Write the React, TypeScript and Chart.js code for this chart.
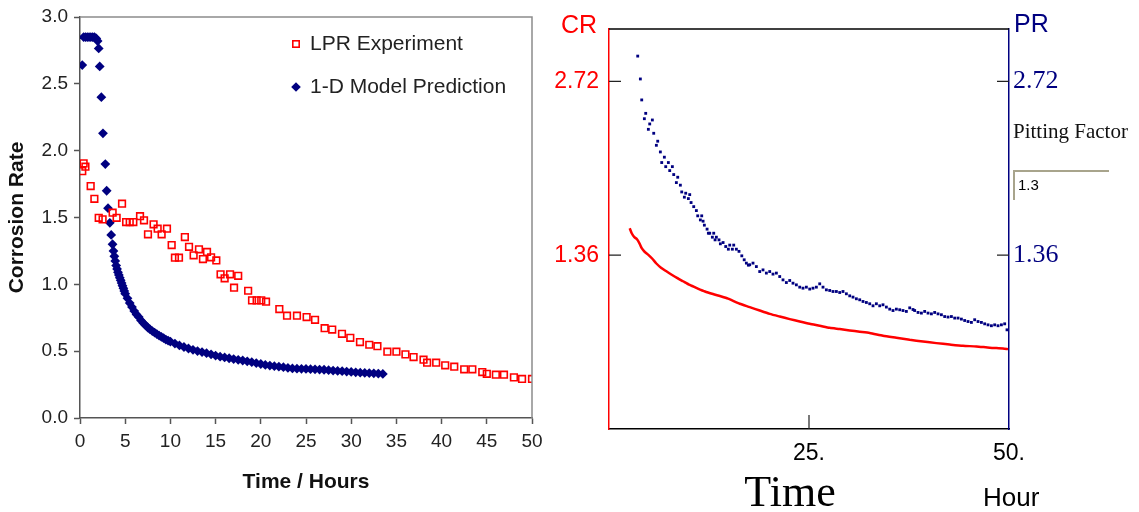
import React, { useEffect, useRef } from 'react';
import { Chart, registerables } from 'chart.js';

Chart.register(...registerables);

// ---------- Left panel data ----------
const lprLabel = 'LPR Experiment';
const lprTime = [0.25, 0.4, 0.6, 1.18, 1.59, 2.07, 2.5, 3.61, 4.05, 4.65, 5.1, 5.5, 5.9, 6.64, 7.08, 7.52, 8.14, 8.59, 9.03, 9.62, 10.14, 10.5, 10.95, 11.6, 12.06, 12.57, 13.16, 13.6, 14.05, 14.5, 15.08, 15.55, 16.0, 16.6, 17.04, 17.5, 18.6, 19.03, 19.54, 20.05, 20.58, 22.05, 22.9, 24.0, 25.07, 26.0, 27.06, 27.9, 28.98, 29.9, 30.97, 32.0, 32.9, 34.0, 35.0, 36.0, 36.9, 38.0, 38.4, 39.4, 40.4, 41.4, 42.5, 43.4, 44.5, 45.0, 46.0, 46.9, 48.0, 48.9, 50.0];
const lprRate = [1.847, 1.905, 1.88, 1.735, 1.64, 1.498, 1.486, 1.536, 1.498, 1.603, 1.466, 1.466, 1.466, 1.51, 1.479, 1.374, 1.449, 1.416, 1.374, 1.416, 1.294, 1.199, 1.199, 1.354, 1.281, 1.217, 1.262, 1.189, 1.242, 1.202, 1.179, 1.075, 1.045, 1.075, 0.975, 1.064, 0.952, 0.88, 0.88, 0.88, 0.87, 0.815, 0.765, 0.765, 0.755, 0.735, 0.672, 0.662, 0.63, 0.6, 0.568, 0.548, 0.537, 0.496, 0.496, 0.476, 0.456, 0.436, 0.414, 0.414, 0.394, 0.384, 0.364, 0.364, 0.344, 0.331, 0.324, 0.324, 0.304, 0.292, 0.292];

const modelLabel = '1-D Model Prediction';
const modelTime = [0.25, 0.4, 0.6, 0.8, 1.0, 1.2, 1.4, 1.6, 1.8, 1.95, 2.07, 2.18, 2.36, 2.54, 2.8, 2.95, 3.1, 3.3, 3.45, 3.6, 3.7, 3.8, 3.9, 4.0, 4.1, 4.2, 4.3, 4.4, 4.5, 4.6, 4.7, 4.8, 4.9, 5.0, 5.25, 5.5, 5.75, 6.0, 6.25, 6.5, 6.75, 7.0, 7.25, 7.5, 7.75, 8.0, 8.25, 8.5, 8.75, 9.0, 9.25, 9.5, 9.75, 10.0, 10.5, 11.0, 11.5, 12.0, 12.5, 13.0, 13.5, 14.0, 14.5, 15.0, 15.5, 16.0, 16.5, 17.0, 17.5, 18.0, 18.5, 19.0, 19.5, 20.0, 20.5, 21.0, 21.5, 22.0, 22.5, 23.0, 23.5, 24.0, 24.5, 25.0, 25.5, 26.0, 26.5, 27.0, 27.5, 28.0, 28.5, 29.0, 29.5, 30.0, 30.5, 31.0, 31.5, 32.0, 32.5, 33.0, 33.5];
const modelRate = [2.64, 2.85, 2.85, 2.85, 2.85, 2.85, 2.85, 2.85, 2.84, 2.82, 2.765, 2.63, 2.4, 2.13, 1.9, 1.7, 1.57, 1.46, 1.37, 1.3, 1.25, 1.21, 1.175, 1.14, 1.115, 1.09, 1.07, 1.05, 1.03, 1.01, 0.99, 0.97, 0.95, 0.93, 0.895, 0.86, 0.83, 0.8, 0.775, 0.755, 0.73, 0.71, 0.693, 0.677, 0.663, 0.65, 0.639, 0.628, 0.617, 0.607, 0.597, 0.587, 0.579, 0.572, 0.557, 0.543, 0.531, 0.52, 0.51, 0.501, 0.493, 0.485, 0.476, 0.467, 0.459, 0.453, 0.447, 0.441, 0.435, 0.43, 0.424, 0.418, 0.411, 0.404, 0.397, 0.392, 0.388, 0.384, 0.38, 0.375, 0.371, 0.369, 0.368, 0.367, 0.365, 0.364, 0.362, 0.361, 0.358, 0.355, 0.352, 0.35, 0.347, 0.345, 0.342, 0.339, 0.337, 0.336, 0.334, 0.332, 0.33];

const leftXTicks = [0, 5, 10, 15, 20, 25, 30, 35, 40, 45, 50];
const leftYTicks = [0, 0.5, 1.0, 1.5, 2.0, 2.5, 3.0];
const leftXTitle = 'Time / Hours';
const leftYTitle = 'Corrosion Rate';

// ---------- Right panel data ----------
const crTime = [2.59, 2.84, 3.17, 3.5, 3.84, 4.09, 4.42, 4.92, 5.42, 5.92, 6.5, 7.17, 7.84, 8.5, 9.25, 10.09, 11.0, 12.0, 13.0, 14.05, 14.88, 16.34, 17.59, 18.84, 20.09, 21.34, 22.59, 23.84, 25.09, 26.34, 27.59, 28.84, 30.09, 31.34, 32.59, 34.25, 35.92, 37.59, 39.25, 40.92, 42.59, 44.25, 45.92, 47.59, 49.25, 49.88];
const crValue = [1.571, 1.532, 1.501, 1.485, 1.449, 1.415, 1.389, 1.363, 1.332, 1.295, 1.262, 1.234, 1.207, 1.182, 1.156, 1.127, 1.102, 1.076, 1.056, 1.037, 1.02, 0.98, 0.954, 0.927, 0.901, 0.88, 0.86, 0.841, 0.823, 0.808, 0.792, 0.782, 0.771, 0.761, 0.751, 0.73, 0.714, 0.698, 0.685, 0.672, 0.661, 0.651, 0.646, 0.636, 0.63, 0.625];

const prTime = [3.59, 3.92, 4.09, 4.42, 4.59, 4.92, 5.09, 5.42, 5.59, 5.92, 6.09, 6.42, 6.59, 6.92, 7.09, 7.42, 7.59, 7.92, 8.09, 8.42, 8.59, 8.92, 9.09, 9.42, 9.59, 9.92, 10.09, 10.26, 10.59, 10.92, 11.09, 11.42, 11.59, 11.76, 11.92, 12.26, 12.42, 12.59, 12.92, 13.09, 13.26, 13.42, 13.75, 13.92, 14.26, 14.59, 14.92, 15.09, 15.42, 15.59, 15.92, 16.25, 16.6, 16.9, 17.17, 17.42, 17.59, 18.0, 18.42, 18.84, 19.25, 19.67, 20.09, 20.5, 20.92, 21.34, 21.75, 22.17, 22.59, 23.0, 23.42, 23.84, 24.25, 24.67, 25.09, 25.5, 25.92, 26.34, 26.75, 27.17, 27.59, 28.0, 28.42, 28.84, 29.25, 29.67, 30.09, 30.5, 30.92, 31.34, 31.75, 32.17, 32.59, 33.0, 33.42, 33.84, 34.25, 34.67, 35.09, 35.5, 35.92, 36.34, 36.75, 37.17, 37.59, 38.0, 38.21, 38.63, 39.05, 39.46, 39.88, 40.3, 40.71, 41.13, 41.55, 41.96, 42.38, 42.8, 43.21, 43.63, 44.05, 44.46, 44.88, 45.3, 45.71, 46.13, 46.55, 46.96, 47.38, 47.8, 48.21, 48.63, 49.05, 49.46, 49.75];
const prValue = [2.918, 2.739, 2.575, 2.428, 2.47, 2.345, 2.387, 2.418, 2.314, 2.22, 2.252, 2.168, 2.085, 2.127, 2.053, 2.085, 2.022, 2.053, 1.991, 1.928, 1.97, 1.908, 1.855, 1.814, 1.845, 1.803, 1.834, 1.772, 1.74, 1.709, 1.668, 1.636, 1.668, 1.626, 1.595, 1.564, 1.532, 1.532, 1.501, 1.532, 1.48, 1.501, 1.48, 1.449, 1.459, 1.428, 1.407, 1.439, 1.407, 1.439, 1.407, 1.39, 1.355, 1.324, 1.298, 1.282, 1.285, 1.298, 1.271, 1.232, 1.245, 1.22, 1.232, 1.212, 1.22, 1.193, 1.167, 1.146, 1.162, 1.141, 1.128, 1.11, 1.102, 1.11, 1.095, 1.102, 1.11, 1.136, 1.11, 1.089, 1.084, 1.076, 1.076, 1.068, 1.076, 1.058, 1.042, 1.032, 1.019, 1.011, 0.998, 0.99, 0.98, 0.964, 0.98, 0.964, 0.972, 0.954, 0.938, 0.927, 0.938, 0.933, 0.927, 0.92, 0.948, 0.935, 0.927, 0.912, 0.907, 0.92, 0.907, 0.901, 0.912, 0.901, 0.894, 0.88, 0.876, 0.88, 0.868, 0.868, 0.86, 0.849, 0.841, 0.834, 0.855, 0.841, 0.834, 0.823, 0.815, 0.808, 0.815, 0.808, 0.815, 0.823, 0.776];

const rightXTicks = [25, 50];
const rightYTicks = [1.36, 2.72];
const rightYMax = 3.13;
const crLabel = 'CR';
const prLabel = 'PR';
const rightXTitle = 'Time';
const rightXUnit = 'Hour';
const pittingLabel = 'Pitting Factor';
const pittingValue = '1.3';

const RED = '#ff0000';
const NAVY = '#000080';
const SANS = 'Arial, "Liberation Sans", sans-serif';
const SERIF = '"Times New Roman", "Liberation Serif", serif';

const zip = (xs: number[], ys: number[]) => xs.map((x, i) => ({ x, y: ys[i] }));

const leftDecor = {
  id: 'leftDecor',
  afterDraw(chart: any) {
    const { ctx, chartArea: a } = chart;
    ctx.save();
    ctx.strokeStyle = '#8c8c8c';
    ctx.lineWidth = 1.5;
    ctx.beginPath();
    ctx.moveTo(a.left, a.top);
    ctx.lineTo(a.right, a.top);
    ctx.lineTo(a.right, a.bottom);
    ctx.stroke();
    // legend
    const items = chart.data.datasets;
    const ys = [44, 87];
    items.forEach((ds: any, i: number) => {
      const mx = 296;
      const my = ys[i];
      if (ds.pointStyle === 'rect') {
        ctx.strokeStyle = ds.borderColor;
        ctx.lineWidth = 1.6;
        ctx.strokeRect(mx - 3.2, my - 3.2, 6.4, 6.4);
      } else {
        ctx.fillStyle = ds.backgroundColor;
        ctx.beginPath();
        ctx.moveTo(mx, my - 4.8);
        ctx.lineTo(mx + 4.8, my);
        ctx.lineTo(mx, my + 4.8);
        ctx.lineTo(mx - 4.8, my);
        ctx.closePath();
        ctx.fill();
      }
      ctx.fillStyle = '#222';
      ctx.font = `21px ${SANS}`;
      ctx.textBaseline = 'middle';
      ctx.textAlign = 'left';
      ctx.fillText(ds.label, 310, my);
    });
    ctx.restore();
  },
};

const rightDecor = {
  id: 'rightDecor',
  afterDraw(chart: any) {
    const { ctx, chartArea: a, scales } = chart;
    ctx.save();
    // top border
    ctx.strokeStyle = '#000';
    ctx.lineWidth = 1.5;
    ctx.beginPath();
    ctx.moveTo(a.left, a.top);
    ctx.lineTo(a.right, a.top);
    ctx.stroke();
    // inward ticks
    ctx.lineWidth = 1.2;
    ctx.strokeStyle = '#222';
    ctx.beginPath();
    scales.y.ticks.forEach((t: any) => {
      const p = scales.y.getPixelForValue(t.value);
      ctx.moveTo(a.left, p);
      ctx.lineTo(a.left + 12, p);
    });
    scales.y2.ticks.forEach((t: any) => {
      const p = scales.y2.getPixelForValue(t.value);
      ctx.moveTo(a.right - 12, p);
      ctx.lineTo(a.right, p);
    });
    scales.x.ticks.forEach((t: any) => {
      const p = scales.x.getPixelForValue(t.value);
      if (Math.abs(p - a.right) < 2) return;
      ctx.moveTo(p, a.bottom);
      ctx.lineTo(p, a.bottom - 14);
    });
    ctx.stroke();
    // axis captions
    ctx.textBaseline = 'middle';
    ctx.font = `25px ${SANS}`;
    ctx.fillStyle = RED;
    ctx.textAlign = 'center';
    ctx.fillText(crLabel, a.left - 30, 26);
    ctx.fillStyle = NAVY;
    ctx.textAlign = 'left';
    ctx.fillText(prLabel, a.right + 5, 25);
    // pitting factor
    ctx.fillStyle = '#111';
    ctx.font = `21px ${SERIF}`;
    ctx.fillText(pittingLabel, a.right + 4, 132);
    ctx.strokeStyle = '#a8a48c';
    ctx.lineWidth = 2;
    ctx.beginPath();
    ctx.moveTo(a.right + 5, 200);
    ctx.lineTo(a.right + 5, 171);
    ctx.lineTo(a.right + 100, 171);
    ctx.stroke();
    ctx.fillStyle = '#000';
    ctx.font = `15px ${SANS}`;
    ctx.fillText(pittingValue, a.right + 9, 186);
    // bottom captions
    ctx.textBaseline = 'alphabetic';
    ctx.textAlign = 'center';
    ctx.font = `44px ${SERIF}`;
    ctx.fillText(rightXTitle, 245, 506);
    ctx.textAlign = 'left';
    ctx.font = `26px ${SANS}`;
    ctx.fillText(rightXUnit, 438, 506);
    ctx.restore();
  },
};

export default function App() {
  const leftRef = useRef<HTMLCanvasElement>(null);
  const rightRef = useRef<HTMLCanvasElement>(null);

  useEffect(() => {
    document.body.style.margin = '0';
    const left = new Chart(leftRef.current!, {
      type: 'scatter',
      data: {
        datasets: [
          {
            label: lprLabel,
            data: zip(lprTime, lprRate),
            pointStyle: 'rect',
            pointRadius: 4.7,
            borderColor: RED,
            backgroundColor: 'rgba(255,255,255,0)',
            borderWidth: 1.6,
            showLine: false,
          },
          {
            label: modelLabel,
            data: zip(modelTime, modelRate),
            pointStyle: 'rectRot',
            pointRadius: 4.9,
            borderColor: NAVY,
            backgroundColor: NAVY,
            borderWidth: 0,
            showLine: false,
          },
        ],
      },
      options: {
        responsive: false,
        animation: false,
        events: [],
        layout: { padding: { left: 0, top: 17, right: 13, bottom: 0 } },
        plugins: { legend: { display: false }, tooltip: { enabled: false } },
        scales: {
          x: {
            type: 'linear',
            min: 0,
            max: 50,
            afterBuildTicks: (s: any) => { s.ticks = leftXTicks.map((v) => ({ value: v })); },
            afterFit: (s: any) => { s.height = 94; s.paddingLeft = 0; s.paddingRight = 0; },
            ticks: { font: { size: 19, family: SANS }, color: '#222', padding: 6, maxRotation: 0, autoSkip: false },
            grid: { drawOnChartArea: false, tickLength: 6, tickColor: '#555', tickWidth: 1.5 },
            border: { color: '#555', width: 1.5 },
            title: { display: true, text: leftXTitle, font: { size: 21, weight: 'bold', family: SANS }, color: '#111', padding: { top: 0, bottom: 17 } },
          },
          y: {
            type: 'linear',
            min: 0,
            max: 3,
            afterBuildTicks: (s: any) => { s.ticks = leftYTicks.map((v) => ({ value: v })); },
            afterFit: (s: any) => { s.width = 80; s.paddingTop = 0; s.paddingBottom = 0; },
            ticks: { font: { size: 19, family: SANS }, color: '#222', padding: 6, callback: (v: any) => Number(v).toFixed(1) },
            grid: { drawOnChartArea: false, tickLength: 6, tickColor: '#555', tickWidth: 1.5 },
            border: { color: '#555', width: 1.5 },
            title: { display: true, text: leftYTitle, font: { size: 21, weight: 'bold', family: SANS }, color: '#111', padding: { top: 5, bottom: 0 } },
          },
        },
      },
      plugins: [leftDecor],
    } as any);

    const right = new Chart(rightRef.current!, {
      type: 'scatter',
      data: {
        datasets: [
          {
            label: crLabel,
            data: zip(crTime, crValue),
            yAxisID: 'y',
            showLine: true,
            borderColor: RED,
            backgroundColor: RED,
            borderWidth: 2.5,
            pointRadius: 0,
            tension: 0.2,
          },
          {
            label: prLabel,
            data: zip(prTime, prValue),
            yAxisID: 'y2',
            showLine: false,
            pointStyle: 'rect',
            pointRadius: 2,
            borderWidth: 0,
            borderColor: NAVY,
            backgroundColor: NAVY,
          },
        ],
      },
      options: {
        responsive: false,
        animation: false,
        events: [],
        layout: { padding: { left: 0, top: 29, right: 0, bottom: 0 } },
        plugins: { legend: { display: false }, tooltip: { enabled: false } },
        scales: {
          x: {
            type: 'linear',
            min: 0,
            max: 50,
            afterBuildTicks: (s: any) => { s.ticks = rightXTicks.map((v) => ({ value: v })); },
            afterFit: (s: any) => { s.height = 83; s.paddingLeft = 0; s.paddingRight = 0; },
            ticks: { font: { size: 23, family: SANS }, color: '#000', padding: 11, maxRotation: 0, autoSkip: false, callback: (v: any) => `${v}.` },
            grid: { drawOnChartArea: false, drawTicks: false },
            border: { color: '#000', width: 1.5 },
          },
          y: {
            type: 'linear',
            position: 'left',
            min: 0,
            max: rightYMax,
            afterBuildTicks: (s: any) => { s.ticks = rightYTicks.map((v) => ({ value: v })); },
            afterFit: (s: any) => { s.width = 64; },
            ticks: { font: { size: 23, family: SANS }, color: RED, padding: 10, callback: (v: any) => Number(v).toFixed(2) },
            grid: { drawOnChartArea: false, drawTicks: false },
            border: { color: RED, width: 1.5 },
          },
          y2: {
            type: 'linear',
            position: 'right',
            min: 0,
            max: rightYMax,
            afterBuildTicks: (s: any) => { s.ticks = rightYTicks.map((v) => ({ value: v })); },
            afterFit: (s: any) => { s.width = 130; },
            ticks: { font: { size: 26, family: SERIF }, color: NAVY, padding: 4, callback: (v: any) => Number(v).toFixed(2) },
            grid: { drawOnChartArea: false, drawTicks: false },
            border: { color: NAVY, width: 1.5 },
          },
        },
      },
      plugins: [rightDecor],
    } as any);

    return () => {
      left.destroy();
      right.destroy();
    };
  }, []);

  return (
    <div style={{ position: 'absolute', left: 0, top: 0, width: 1139, height: 512, background: '#fff' }}>
      <canvas ref={leftRef} width={545} height={512} style={{ position: 'absolute', left: 0, top: 0 }} />
      <canvas ref={rightRef} width={594} height={512} style={{ position: 'absolute', left: 545, top: 0 }} />
    </div>
  );
}
